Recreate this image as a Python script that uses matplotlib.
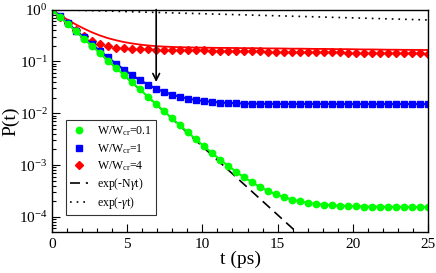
import numpy as np
import matplotlib.pyplot as plt
from matplotlib.lines import Line2D

plt.rcParams['font.family'] = ['Liberation Serif', 'DejaVu Serif']
plt.rcParams['mathtext.fontset'] = 'custom'
plt.rcParams['mathtext.rm'] = 'Liberation Serif'
plt.rcParams['mathtext.it'] = 'Liberation Serif:italic'

# time grid of the sampled points (ps)
t = np.linspace(0, 25, 48)

# W/Wcr = 0.1 (green)
p_green = [1.0, 0.724, 0.524, 0.379, 0.274, 0.199, 0.144, 0.104, 0.0754, 0.0546,
           0.0396, 0.0287, 0.0208, 0.0151, 0.0110, 0.00798, 0.00582, 0.00425, 0.00312, 0.00230,
           0.00171, 0.00128, 0.000969, 0.000744, 0.000581, 0.000464, 0.000378, 0.000317, 0.000272, 0.000240,
           0.000216, 0.000199, 0.000187, 0.000178, 0.000172, 0.000167, 0.000164, 0.000161, 0.000160, 0.000158,
           0.000157, 0.000157, 0.000156, 0.000156, 0.000156, 0.000155, 0.000155, 0.000155]

# W/Wcr = 1 (blue)
p_blue = [1.0, 0.739, 0.539, 0.394, 0.289, 0.214, 0.159, 0.119, 0.0903, 0.0695,
          0.0544, 0.0435, 0.0357, 0.0299, 0.0258, 0.0228, 0.0207, 0.0191, 0.0180, 0.0171,
          0.0166, 0.0161, 0.0158, 0.0156, 0.0154, 0.0153, 0.0152, 0.0152, 0.0151, 0.0151,
          0.0151, 0.0151, 0.0151, 0.0151, 0.0151, 0.0151, 0.0150, 0.0150, 0.0150, 0.0150,
          0.0150, 0.0150, 0.0150, 0.0150, 0.0150, 0.0150, 0.0150, 0.0150]

# W/Wcr = 4 (red markers)
p_red = [1.0, 0.72, 0.55, 0.41, 0.31, 0.25, 0.215, 0.195, 0.184, 0.178,
         0.175, 0.172, 0.170, 0.169, 0.168, 0.167, 0.166, 0.165, 0.164, 0.163,
         0.162, 0.161, 0.160, 0.159, 0.158, 0.157, 0.156, 0.155, 0.155, 0.154,
         0.153, 0.152, 0.152, 0.151, 0.150, 0.149, 0.149, 0.148, 0.147, 0.147,
         0.146, 0.145, 0.145, 0.144, 0.143, 0.143, 0.142, 0.141]

# W/Wcr = 4 (red solid curve)
p_red_line = [1.0, 0.789, 0.630, 0.515, 0.429, 0.364, 0.316, 0.281, 0.256, 0.236,
              0.222, 0.211, 0.203, 0.197, 0.193, 0.190, 0.188, 0.186, 0.185, 0.184,
              0.183, 0.182, 0.182, 0.181, 0.180, 0.180, 0.179, 0.178, 0.178, 0.177,
              0.176, 0.176, 0.175, 0.174, 0.174, 0.173, 0.172, 0.172, 0.171, 0.170,
              0.170, 0.169, 0.168, 0.168, 0.167, 0.167, 0.166, 0.166]

# reference exponentials (straight lines on log scale, endpoints)
t_ref = [0, 25]
p_fast = [1.0, 2.5e-7]   # exp(-N gamma t)
p_slow = [1.0, 0.63]     # exp(-gamma t)

# arrow
arrow_t = 6.93
arrow_from, arrow_to = 1.0, 0.040

fig = plt.figure(figsize=(4.36, 2.73), dpi=100)
ax = fig.add_axes([0.119, 0.150, 0.863, 0.815])

ax.plot(t_ref, p_fast, color='black', lw=1.2, ls=(0, (6, 3.5)))
ax.plot(t_ref, p_slow, color='black', lw=1.2, ls=(0, (1, 3)))

ax.plot(t, p_red_line, color='#ff0000', lw=1.3)
ax.plot(t, p_red, color='#ff0000', ls='none', marker='D', ms=4.0, mec='#ff0000')
ax.plot(t, p_blue, color='#0000ff', lw=1.5, marker='s', ms=4.0)
ax.plot(t, p_green, color='#00ff00', lw=1.5, marker='o', ms=4.6)

ax.annotate('', xy=(arrow_t, arrow_to), xytext=(arrow_t, arrow_from),
            arrowprops=dict(arrowstyle='->', color='black', lw=1.2,
                            mutation_scale=12, shrinkA=0, shrinkB=0))

ax.set_yscale('log')
ax.set_xlim(0, 25)
ax.set_ylim(5.1e-5, 1.0)
ax.set_xticks([0, 5, 10, 15, 20, 25])
ax.set_xticks(np.arange(0, 26, 1), minor=True)
ax.set_yticks([1e0, 1e-1, 1e-2, 1e-3, 1e-4])
ax.tick_params(which='both', direction='in', top=False, right=False, labelsize=11)
ax.tick_params(which='major', length=6, width=0.8)
ax.tick_params(which='minor', length=3, width=0.8)
ax.tick_params(axis='x', pad=4)
ax.tick_params(axis='y', pad=3)
for s in ax.spines.values():
    s.set_linewidth(1.0)

ax.set_xlabel('t (ps)', fontsize=14, labelpad=0)
ax.set_ylabel('P(t)', fontsize=14)
ax.yaxis.set_label_coords(-0.086, 0.5)

handles = [
    Line2D([], [], color='#00ff00', ls='none', marker='o', ms=4.6),
    Line2D([], [], color='#0000ff', ls='none', marker='s', ms=4.0),
    Line2D([], [], color='#ff0000', ls='none', marker='D', ms=4.0),
    Line2D([], [], color='black', lw=1.2, ls=(0, (6, 3.5))),
    Line2D([], [], color='black', lw=1.2, ls=(0, (1, 3))),
]
labels = [r'W/W$_{\rm cr}$=0.1', r'W/W$_{\rm cr}$=1', r'W/W$_{\rm cr}$=4',
          r'exp(-N$\gamma$t)', r'exp(-$\gamma$t)']
leg = ax.legend(handles, labels, loc='lower left', bbox_to_anchor=(0.037, 0.075),
                fontsize=8.5, frameon=True, fancybox=False, edgecolor='black',
                handlelength=1.5, handletextpad=0.75, labelspacing=0.28,
                borderpad=0.35, borderaxespad=0)
leg.get_frame().set_linewidth(0.8)

fig.savefig('out.png', dpi=100)
